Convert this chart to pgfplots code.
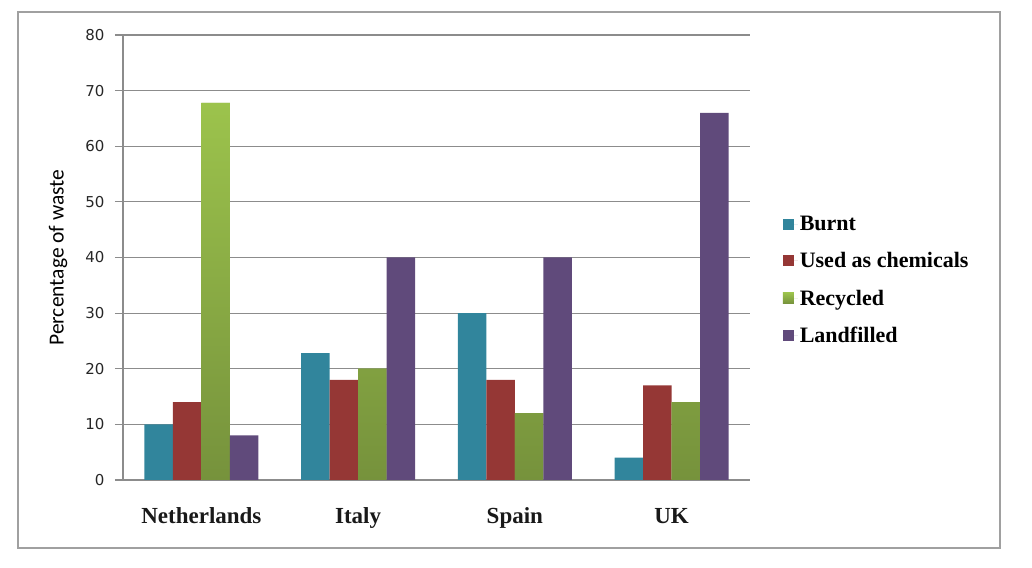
\documentclass[border=0pt]{standalone}
\usepackage{pgfplots}
\pgfplotsset{compat=1.18}
\usepackage{fontspec}
\setmainfont{Liberation Serif}
\newfontfamily\dvs{DejaVu Sans}
\newfontfamily\carl{Carlito}
\definecolor{cBurnt}{HTML}{31859C}
\definecolor{cChem}{HTML}{953735}
\definecolor{cRecT}{HTML}{9CC34C}
\definecolor{cRecB}{HTML}{76923C}
\definecolor{cRec}{HTML}{8DB04A}
\definecolor{cLand}{HTML}{604A7B}
\definecolor{cGrid}{HTML}{8C8C8C}
\definecolor{cFrame}{HTML}{A0A0A0}
\begin{document}
\begin{tikzpicture}
\path (0,0) rectangle (1032bp,568bp);
\draw[cFrame, line width=1.5bp] (18bp,20bp) rectangle (1000bp,556bp);
\begin{axis}[
  at={(123bp,88bp)}, anchor=south west,
  scale only axis, width=627bp, height=445bp,
  ybar=0pt, bar width=28.5bp,
  xmin=-0.5, xmax=3.5, ymin=0, ymax=80,
  xtick={0,1,2,3},
  xticklabels={Netherlands,Italy,Spain,UK},
  ytick={0,10,...,80},
  axis x line*=bottom, axis y line*=left,
  axis line style={draw=cGrid, line width=1.2bp, -},
  ymajorgrids, grid style={draw=cGrid, line width=1.2bp},
  xtick style={draw=none},
  ytick style={draw=cGrid, line width=1.2bp},
  tick align=outside, major tick length=8bp,
  /pgf/number format/assume math mode=true,
  yticklabel style={font=\dvs\fontsize{15bp}{17bp}\selectfont, text=black!85, anchor=east, xshift=-7bp},
  xticklabel style={font=\bfseries\fontsize{23bp}{26bp}\selectfont, text=black!90, anchor=base, yshift=-35bp},
  ylabel={Percentage of waste},
  ylabel style={font=\carl\fontsize{21.5bp}{24bp}\selectfont, at={(axis description cs:-0.1037,0.5)}, anchor=center, rotate=0},
  legend style={at={(axis description cs:1.052,0.598)}, anchor=north west, draw=none, fill=none,
    font=\bfseries\fontsize{22bp}{25bp}\selectfont, row sep=16.5bp, inner sep=0pt,
    nodes={inner sep=2bp}},
  legend cell align=left,
  legend image code/.code={\fill[#1] (0bp,-5.5bp) rectangle (11bp,5.5bp); \path (0bp,0bp) -- (15bp,0bp);},
]
\addplot[draw=none, fill=cBurnt] coordinates {(0,10) (1,22.8) (2,30) (3,4)};
\addlegendentry{Burnt}
\addplot[draw=none, fill=cChem] coordinates {(0,14) (1,18) (2,18) (3,17)};
\addlegendentry{Used as chemicals}
\addplot[draw=none, fill=cRec, top color=cRecT, bottom color=cRecB] coordinates {(0,67.8) (1,20) (2,12) (3,14)};
\addlegendentry{Recycled}
\addplot[draw=none, fill=cLand] coordinates {(0,8) (1,40) (2,40) (3,66)};
\addlegendentry{Landfilled}
\end{axis}
\end{tikzpicture}
\end{document}
